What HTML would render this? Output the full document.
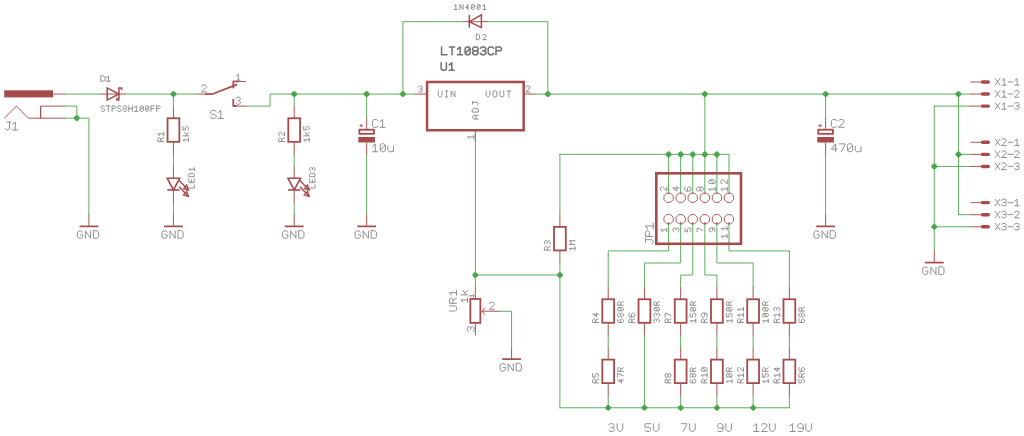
<!DOCTYPE html>
<html><head><meta charset="utf-8"><style>
html,body{margin:0;padding:0;background:#fff;width:1024px;height:436px;overflow:hidden}
svg{display:block}
</style></head><body>
<svg width="1024" height="436" viewBox="0 0 1024 436">
<rect width="1024" height="436" fill="#fff"/>
<path d="M64.75 94.05 L100.98 94.05" stroke="#4ba54b" stroke-width="0.9" fill="none" stroke-linecap="square" stroke-linejoin="miter"/>
<path d="M64.75 106.12 L76.82 106.12 L76.82 118.18" stroke="#4ba54b" stroke-width="0.9" fill="none" stroke-linecap="square" stroke-linejoin="miter"/>
<path d="M64.75 118.18 L88.9 118.18 L88.9 214.71" stroke="#4ba54b" stroke-width="0.9" fill="none" stroke-linecap="square" stroke-linejoin="miter"/>
<polygon points="80.12,118.18 78.66,120.02 76.82,121.48 74.98,120.02 73.52,118.18 74.98,116.35 76.82,114.88 78.66,116.35" fill="#4ba54b"/>
<path d="M125.13 94.05 L197.59 94.05" stroke="#4ba54b" stroke-width="0.9" fill="none" stroke-linecap="square" stroke-linejoin="miter"/>
<polygon points="176.74,94.05 175.28,95.89 173.44,97.35 171.6,95.89 170.14,94.05 171.6,92.21 173.44,90.75 175.28,92.21" fill="#4ba54b"/>
<path d="M245.9 106.12 L270.05 106.12 L270.05 94.05 L414.98 94.05" stroke="#4ba54b" stroke-width="0.9" fill="none" stroke-linecap="square" stroke-linejoin="miter"/>
<polygon points="297.51,94.05 296.05,95.89 294.21,97.35 292.37,95.89 290.91,94.05 292.37,92.21 294.21,90.75 296.05,92.21" fill="#4ba54b"/>
<polygon points="369.97,94.05 368.51,95.89 366.67,97.35 364.83,95.89 363.37,94.05 364.83,92.21 366.67,90.75 368.51,92.21" fill="#4ba54b"/>
<polygon points="406.2,94.05 404.74,95.89 402.9,97.35 401.06,95.89 399.6,94.05 401.06,92.21 402.9,90.75 404.74,92.21" fill="#4ba54b"/>
<path d="M173.44 94.05 L173.44 106.12" stroke="#4ba54b" stroke-width="0.9" fill="none" stroke-linecap="square" stroke-linejoin="miter"/>
<path d="M173.44 154.38 L173.44 166.45" stroke="#4ba54b" stroke-width="0.9" fill="none" stroke-linecap="square" stroke-linejoin="miter"/>
<path d="M173.44 202.65 L173.44 214.71" stroke="#4ba54b" stroke-width="0.9" fill="none" stroke-linecap="square" stroke-linejoin="miter"/>
<path d="M294.21 94.05 L294.21 106.12" stroke="#4ba54b" stroke-width="0.9" fill="none" stroke-linecap="square" stroke-linejoin="miter"/>
<path d="M294.21 154.38 L294.21 166.45" stroke="#4ba54b" stroke-width="0.9" fill="none" stroke-linecap="square" stroke-linejoin="miter"/>
<path d="M294.21 202.65 L294.21 214.71" stroke="#4ba54b" stroke-width="0.9" fill="none" stroke-linecap="square" stroke-linejoin="miter"/>
<path d="M366.67 94.05 L366.67 118.18" stroke="#4ba54b" stroke-width="0.9" fill="none" stroke-linecap="square" stroke-linejoin="miter"/>
<path d="M366.67 154.38 L366.67 214.71" stroke="#4ba54b" stroke-width="0.9" fill="none" stroke-linecap="square" stroke-linejoin="miter"/>
<path d="M402.9 94.05 L402.9 21.66 L463.29 21.66" stroke="#4ba54b" stroke-width="0.9" fill="none" stroke-linecap="square" stroke-linejoin="miter"/>
<path d="M487.44 21.66 L547.83 21.66 L547.83 94.05" stroke="#4ba54b" stroke-width="0.9" fill="none" stroke-linecap="square" stroke-linejoin="miter"/>
<path d="M535.75 94.05 L970.52 94.05" stroke="#4ba54b" stroke-width="0.9" fill="none" stroke-linecap="square" stroke-linejoin="miter"/>
<polygon points="551.12,94.05 549.66,95.89 547.83,97.35 545.99,95.89 544.53,94.05 545.99,92.21 547.83,90.75 549.66,92.21" fill="#4ba54b"/>
<polygon points="708.13,94.05 706.66,95.89 704.83,97.35 702.99,95.89 701.53,94.05 702.99,92.21 704.83,90.75 706.66,92.21" fill="#4ba54b"/>
<polygon points="828.9,94.05 827.43,95.89 825.6,97.35 823.76,95.89 822.3,94.05 823.76,92.21 825.6,90.75 827.43,92.21" fill="#4ba54b"/>
<polygon points="961.74,94.05 960.28,95.89 958.44,97.35 956.6,95.89 955.14,94.05 956.6,92.21 958.44,90.75 960.28,92.21" fill="#4ba54b"/>
<path d="M475.36 142.32 L475.36 287.11" stroke="#4ba54b" stroke-width="0.9" fill="none" stroke-linecap="square" stroke-linejoin="miter"/>
<polygon points="478.66,275.04 477.2,276.88 475.36,278.34 473.52,276.88 472.06,275.04 473.52,273.2 475.36,271.74 477.2,273.2" fill="#4ba54b"/>
<path d="M475.36 275.04 L559.9 275.04" stroke="#4ba54b" stroke-width="0.9" fill="none" stroke-linecap="square" stroke-linejoin="miter"/>
<polygon points="563.2,275.04 561.74,276.88 559.9,278.34 558.06,276.88 556.6,275.04 558.06,273.2 559.9,271.74 561.74,273.2" fill="#4ba54b"/>
<path d="M499.52 311.24 L511.59 311.24 L511.59 347.44" stroke="#4ba54b" stroke-width="0.9" fill="none" stroke-linecap="square" stroke-linejoin="miter"/>
<path d="M559.9 154.38 L559.9 214.71" stroke="#4ba54b" stroke-width="0.9" fill="none" stroke-linecap="square" stroke-linejoin="miter"/>
<path d="M559.9 262.98 L559.9 407.77" stroke="#4ba54b" stroke-width="0.9" fill="none" stroke-linecap="square" stroke-linejoin="miter"/>
<path d="M559.9 154.38 L728.98 154.38" stroke="#4ba54b" stroke-width="0.9" fill="none" stroke-linecap="square" stroke-linejoin="miter"/>
<polygon points="671.89,154.38 670.43,156.22 668.6,157.68 666.76,156.22 665.3,154.38 666.76,152.54 668.6,151.08 670.43,152.54" fill="#4ba54b"/>
<polygon points="683.97,154.38 682.51,156.22 680.67,157.68 678.83,156.22 677.37,154.38 678.83,152.54 680.67,151.08 682.51,152.54" fill="#4ba54b"/>
<polygon points="696.05,154.38 694.59,156.22 692.75,157.68 690.91,156.22 689.45,154.38 690.91,152.54 692.75,151.08 694.59,152.54" fill="#4ba54b"/>
<polygon points="708.13,154.38 706.66,156.22 704.83,157.68 702.99,156.22 701.53,154.38 702.99,152.54 704.83,151.08 706.66,152.54" fill="#4ba54b"/>
<polygon points="720.2,154.38 718.74,156.22 716.9,157.68 715.06,156.22 713.6,154.38 715.06,152.54 716.9,151.08 718.74,152.54" fill="#4ba54b"/>
<path d="M704.83 94.05 L704.83 154.38" stroke="#4ba54b" stroke-width="0.9" fill="none" stroke-linecap="square" stroke-linejoin="miter"/>
<path d="M668.6 154.38 L668.6 192.75" stroke="#4ba54b" stroke-width="0.9" fill="none" stroke-linecap="butt" stroke-linejoin="miter"/>
<path d="M680.67 154.38 L680.67 192.75" stroke="#4ba54b" stroke-width="0.9" fill="none" stroke-linecap="butt" stroke-linejoin="miter"/>
<path d="M692.75 154.38 L692.75 192.75" stroke="#4ba54b" stroke-width="0.9" fill="none" stroke-linecap="butt" stroke-linejoin="miter"/>
<path d="M704.83 154.38 L704.83 192.75" stroke="#4ba54b" stroke-width="0.9" fill="none" stroke-linecap="butt" stroke-linejoin="miter"/>
<path d="M716.9 154.38 L716.9 192.75" stroke="#4ba54b" stroke-width="0.9" fill="none" stroke-linecap="butt" stroke-linejoin="miter"/>
<path d="M728.98 154.38 L728.98 192.75" stroke="#4ba54b" stroke-width="0.9" fill="none" stroke-linecap="butt" stroke-linejoin="miter"/>
<path d="M668.6 224.36 L668.6 250.91 L608.21 250.91 L608.21 287.11" stroke="#4ba54b" stroke-width="0.9" fill="none" stroke-linecap="square" stroke-linejoin="miter"/>
<path d="M680.67 224.36 L680.67 262.98 L644.44 262.98 L644.44 287.11" stroke="#4ba54b" stroke-width="0.9" fill="none" stroke-linecap="square" stroke-linejoin="miter"/>
<path d="M692.75 224.36 L692.75 275.04 L680.67 275.04 L680.67 287.11" stroke="#4ba54b" stroke-width="0.9" fill="none" stroke-linecap="square" stroke-linejoin="miter"/>
<path d="M704.83 224.36 L704.83 275.04 L716.9 275.04 L716.9 287.11" stroke="#4ba54b" stroke-width="0.9" fill="none" stroke-linecap="square" stroke-linejoin="miter"/>
<path d="M716.9 224.36 L716.9 262.98 L753.13 262.98 L753.13 287.11" stroke="#4ba54b" stroke-width="0.9" fill="none" stroke-linecap="square" stroke-linejoin="miter"/>
<path d="M728.98 224.36 L728.98 250.91 L789.37 250.91 L789.37 287.11" stroke="#4ba54b" stroke-width="0.9" fill="none" stroke-linecap="square" stroke-linejoin="miter"/>
<path d="M608.21 335.37 L608.21 347.44" stroke="#4ba54b" stroke-width="0.9" fill="none" stroke-linecap="square" stroke-linejoin="miter"/>
<path d="M608.21 395.7 L608.21 407.77" stroke="#4ba54b" stroke-width="0.9" fill="none" stroke-linecap="square" stroke-linejoin="miter"/>
<path d="M680.67 335.37 L680.67 347.44" stroke="#4ba54b" stroke-width="0.9" fill="none" stroke-linecap="square" stroke-linejoin="miter"/>
<path d="M680.67 395.7 L680.67 407.77" stroke="#4ba54b" stroke-width="0.9" fill="none" stroke-linecap="square" stroke-linejoin="miter"/>
<path d="M716.9 335.37 L716.9 347.44" stroke="#4ba54b" stroke-width="0.9" fill="none" stroke-linecap="square" stroke-linejoin="miter"/>
<path d="M716.9 395.7 L716.9 407.77" stroke="#4ba54b" stroke-width="0.9" fill="none" stroke-linecap="square" stroke-linejoin="miter"/>
<path d="M753.13 335.37 L753.13 347.44" stroke="#4ba54b" stroke-width="0.9" fill="none" stroke-linecap="square" stroke-linejoin="miter"/>
<path d="M753.13 395.7 L753.13 407.77" stroke="#4ba54b" stroke-width="0.9" fill="none" stroke-linecap="square" stroke-linejoin="miter"/>
<path d="M789.37 335.37 L789.37 347.44" stroke="#4ba54b" stroke-width="0.9" fill="none" stroke-linecap="square" stroke-linejoin="miter"/>
<path d="M789.37 395.7 L789.37 407.77" stroke="#4ba54b" stroke-width="0.9" fill="none" stroke-linecap="square" stroke-linejoin="miter"/>
<path d="M644.44 335.37 L644.44 407.77" stroke="#4ba54b" stroke-width="0.9" fill="none" stroke-linecap="square" stroke-linejoin="miter"/>
<path d="M559.9 407.77 L789.37 407.77" stroke="#4ba54b" stroke-width="0.9" fill="none" stroke-linecap="square" stroke-linejoin="miter"/>
<polygon points="611.51,407.77 610.05,409.61 608.21,411.07 606.37,409.61 604.91,407.77 606.37,405.93 608.21,404.47 610.05,405.93" fill="#4ba54b"/>
<polygon points="647.74,407.77 646.28,409.61 644.44,411.07 642.6,409.61 641.14,407.77 642.6,405.93 644.44,404.47 646.28,405.93" fill="#4ba54b"/>
<polygon points="683.97,407.77 682.51,409.61 680.67,411.07 678.83,409.61 677.37,407.77 678.83,405.93 680.67,404.47 682.51,405.93" fill="#4ba54b"/>
<polygon points="720.2,407.77 718.74,409.61 716.9,411.07 715.06,409.61 713.6,407.77 715.06,405.93 716.9,404.47 718.74,405.93" fill="#4ba54b"/>
<polygon points="756.43,407.77 754.97,409.61 753.13,411.07 751.3,409.61 749.83,407.77 751.3,405.93 753.13,404.47 754.97,405.93" fill="#4ba54b"/>
<path d="M825.6 94.05 L825.6 118.18" stroke="#4ba54b" stroke-width="0.9" fill="none" stroke-linecap="square" stroke-linejoin="miter"/>
<path d="M825.6 154.38 L825.6 214.71" stroke="#4ba54b" stroke-width="0.9" fill="none" stroke-linecap="square" stroke-linejoin="miter"/>
<path d="M934.29 106.12 L970.52 106.12" stroke="#4ba54b" stroke-width="0.9" fill="none" stroke-linecap="square" stroke-linejoin="miter"/>
<path d="M934.29 106.12 L934.29 250.91" stroke="#4ba54b" stroke-width="0.9" fill="none" stroke-linecap="square" stroke-linejoin="miter"/>
<path d="M958.44 94.05 L958.44 214.71 L970.52 214.71" stroke="#4ba54b" stroke-width="0.9" fill="none" stroke-linecap="square" stroke-linejoin="miter"/>
<path d="M958.44 154.38 L970.52 154.38" stroke="#4ba54b" stroke-width="0.9" fill="none" stroke-linecap="square" stroke-linejoin="miter"/>
<polygon points="961.74,154.38 960.28,156.22 958.44,157.68 956.6,156.22 955.14,154.38 956.6,152.54 958.44,151.08 960.28,152.54" fill="#4ba54b"/>
<path d="M934.29 166.45 L970.52 166.45" stroke="#4ba54b" stroke-width="0.9" fill="none" stroke-linecap="square" stroke-linejoin="miter"/>
<polygon points="937.59,166.45 936.13,168.29 934.29,169.75 932.45,168.29 930.99,166.45 932.45,164.61 934.29,163.15 936.13,164.61" fill="#4ba54b"/>
<path d="M934.29 226.78 L970.52 226.78" stroke="#4ba54b" stroke-width="0.9" fill="none" stroke-linecap="square" stroke-linejoin="miter"/>
<polygon points="937.59,226.78 936.13,228.62 934.29,230.08 932.45,228.62 930.99,226.78 932.45,224.94 934.29,223.48 936.13,224.94" fill="#4ba54b"/>
<rect x="4.2" y="90.3" width="48.8" height="7.1" stroke="#a54b4b" stroke-width="0" fill="#a54b4b"/>
<path d="M52.67 94.05 L64.75 94.05" stroke="#a54b4b" stroke-width="0.95" fill="none" stroke-linecap="butt" stroke-linejoin="miter"/>
<path d="M40.59 106.12 L64.75 106.12" stroke="#a54b4b" stroke-width="0.95" fill="none" stroke-linecap="butt" stroke-linejoin="miter"/>
<path d="M28.51 118.18 L64.75 118.18" stroke="#a54b4b" stroke-width="0.95" fill="none" stroke-linecap="butt" stroke-linejoin="miter"/>
<path d="M40.59 106.12 L40.59 118.18" stroke="#a54b4b" stroke-width="1.2" fill="none" stroke-linecap="butt" stroke-linejoin="miter"/>
<path d="M4.36 118.18 L16.44 106.12 L28.51 118.18" stroke="#a54b4b" stroke-width="0.95" fill="none" stroke-linecap="butt" stroke-linejoin="miter"/>
<path d="M6.69 122.07 L10.93 122.07 M9.51 122.07 L9.51 128.62 L8.10 129.93 L6.69 129.93 L5.27 128.62 M12.60 124.30 L15.28 122.07 L15.28 129.93 M12.46 129.93 L17.82 129.93" stroke="#8a8a8a" stroke-width="0.95" fill="none" stroke-linecap="round" stroke-linejoin="round"/>
<path d="M100.98 94.05 L125.13 94.05" stroke="#a54b4b" stroke-width="0.95" fill="none" stroke-linecap="butt" stroke-linejoin="miter"/>
<path d="M107.2 87.9 L107.2 100.1 L118.9 94 L107.2 87.9 Z" stroke="#a54b4b" stroke-width="1.5" fill="none" stroke-linecap="butt"/>
<path d="M121.6 90 L121.6 87.9 L118.9 87.9 L118.9 100.1 L116.9 100.1 L116.9 97.6" stroke="#a54b4b" stroke-width="1.5" fill="none" stroke-linecap="butt"/>
<path d="M100.77 76.17 L100.77 81.12 L103.99 81.12 L105.06 80.30 L105.06 77.00 L103.99 76.17 Z M106.46 77.58 L108.49 76.17 L108.49 81.12 M106.35 81.12 L110.42 81.12" stroke="#8a8a8a" stroke-width="0.95" fill="none" stroke-linecap="round" stroke-linejoin="round"/>
<path d="M104.49 106.80 L103.61 105.88 L101.85 105.88 L100.97 106.80 L100.97 107.72 L101.85 108.65 L103.61 108.65 L104.49 109.58 L104.49 110.50 L103.61 111.42 L101.85 111.42 L100.97 110.50 M106.54 105.88 L110.05 105.88 M108.30 105.88 L108.30 111.42 M112.10 111.42 L112.10 105.88 L114.74 105.88 L115.62 106.80 L115.62 107.72 L114.74 108.65 L112.10 108.65 M121.18 106.80 L120.30 105.88 L118.54 105.88 L117.67 106.80 L117.67 107.72 L118.54 108.65 L120.30 108.65 L121.18 109.58 L121.18 110.50 L120.30 111.42 L118.54 111.42 L117.67 110.50 M124.11 105.88 L125.87 105.88 L126.74 106.80 L126.74 107.72 L125.87 108.65 L124.11 108.65 L123.23 107.72 L123.23 106.80 Z M124.11 108.65 L123.23 109.58 L123.23 110.50 L124.11 111.42 L125.87 111.42 L126.74 110.50 L126.74 109.58 L125.87 108.65 M128.79 105.88 L128.79 111.42 M132.31 105.88 L132.31 111.42 M128.79 108.65 L132.31 108.65 M134.62 107.45 L136.29 105.88 L136.29 111.42 M134.53 111.42 L137.87 111.42 M140.97 105.88 L142.38 105.88 L143.26 106.80 L143.26 110.50 L142.38 111.42 L140.97 111.42 L140.10 110.50 L140.10 106.80 Z M140.10 110.50 L143.26 106.80 M146.54 105.88 L147.94 105.88 L148.82 106.80 L148.82 110.50 L147.94 111.42 L146.54 111.42 L145.66 110.50 L145.66 106.80 Z M145.66 110.50 L148.82 106.80 M154.56 105.88 L151.05 105.88 L151.05 111.42 M151.05 108.65 L153.68 108.65 M156.61 111.42 L156.61 105.88 L159.25 105.88 L160.12 106.80 L160.12 107.72 L159.25 108.65 L156.61 108.65" stroke="#8a8a8a" stroke-width="0.95" fill="none" stroke-linecap="round" stroke-linejoin="round"/>
<path d="M173.44 106.12 L173.44 118.18" stroke="#a54b4b" stroke-width="0.95" fill="none" stroke-linecap="butt" stroke-linejoin="miter"/>
<path d="M173.44 142.32 L173.44 154.38" stroke="#a54b4b" stroke-width="0.95" fill="none" stroke-linecap="butt" stroke-linejoin="miter"/>
<rect x="167.54" y="118.28" width="11.8" height="23.53" stroke="#a54b4b" stroke-width="1.8" fill="none"/>
<path d="M173.44 166.45 L173.44 178.51" stroke="#a54b4b" stroke-width="0.95" fill="none" stroke-linecap="butt" stroke-linejoin="miter"/>
<path d="M173.44 190.58 L173.44 202.65" stroke="#a54b4b" stroke-width="0.95" fill="none" stroke-linecap="butt" stroke-linejoin="miter"/>
<path d="M167.24 178.31 L179.64 178.31 L173.44 189.98 L167.24 178.31 Z" stroke="#a54b4b" stroke-width="1.6" fill="none" stroke-linecap="butt"/>
<path d="M167.24 189.98 L179.64 189.98" stroke="#a54b4b" stroke-width="1.6" fill="none" stroke-linecap="butt"/>
<path d="M178.94 180.31 L188.04 189.71" stroke="#a54b4b" stroke-width="1.4" fill="none" stroke-linecap="butt"/>
<path d="M188.54 190.31 L186.74 184.81 L183.64 188.61 Z" stroke="#a54b4b" stroke-width="1.2" fill="none" stroke-linecap="butt"/>
<path d="M179.24 186.81 L188.04 195.91" stroke="#a54b4b" stroke-width="1.4" fill="none" stroke-linecap="butt"/>
<path d="M188.54 196.51 L186.74 191.31 L183.34 195.01 Z" stroke="#a54b4b" stroke-width="1.2" fill="none" stroke-linecap="butt"/>
<path d="M173.44 214.71 L173.44 226.78" stroke="#a54b4b" stroke-width="0.95" fill="none" stroke-linecap="butt" stroke-linejoin="miter"/>
<path d="M164.04 226.38 L182.84 226.38" stroke="#a54b4b" stroke-width="1.7" fill="none" stroke-linecap="butt"/>
<path d="M167.13 232.16 L165.83 230.95 L163.22 230.95 L161.91 232.16 L161.91 236.99 L163.22 238.20 L165.83 238.20 L167.13 236.99 L167.13 234.82 L165.05 234.82 M169.93 238.20 L169.93 230.95 L175.15 238.20 L175.15 230.95 M177.94 230.95 L177.94 238.20 L181.86 238.20 L183.16 236.99 L183.16 232.16 L181.86 230.95 Z" stroke="#8a8a8a" stroke-width="0.95" fill="none" stroke-linecap="round" stroke-linejoin="round"/>
<path d="M163.76 141.54 L157.91 141.54 L157.91 138.76 L158.89 137.84 L159.86 137.84 L160.84 138.76 L160.84 141.54 M160.84 139.50 L163.76 137.84 M159.57 135.62 L157.91 133.86 L163.76 133.86 M163.76 135.71 L163.76 132.19" stroke="#8a8a8a" stroke-width="0.95" fill="none" stroke-linecap="round" stroke-linejoin="round"/>
<path d="M184.51 141.45 L182.91 139.75 L188.56 139.75 M188.56 141.54 L188.56 138.14 M182.91 135.87 L188.56 135.87 M184.61 132.47 L187.24 135.87 M186.21 134.44 L188.56 132.47 M182.91 126.44 L182.91 130.02 L185.36 130.02 L185.36 127.34 L186.30 126.44 L187.62 126.44 L188.56 127.34 L188.56 129.12 L187.62 130.02" stroke="#8a8a8a" stroke-width="0.95" fill="none" stroke-linecap="round" stroke-linejoin="round"/>
<path d="M188.91 188.12 L194.26 188.12 L194.26 184.74 M188.91 179.05 L188.91 182.44 L194.26 182.44 L194.26 179.05 M191.59 182.44 L191.59 179.90 M188.91 176.75 L194.26 176.75 L194.26 174.21 L193.37 173.36 L189.80 173.36 L188.91 174.21 Z M190.43 170.81 L188.91 169.20 L194.26 169.20 M194.26 170.89 L194.26 167.67" stroke="#8a8a8a" stroke-width="0.95" fill="none" stroke-linecap="round" stroke-linejoin="round"/>
<path d="M294.21 106.12 L294.21 118.18" stroke="#a54b4b" stroke-width="0.95" fill="none" stroke-linecap="butt" stroke-linejoin="miter"/>
<path d="M294.21 142.32 L294.21 154.38" stroke="#a54b4b" stroke-width="0.95" fill="none" stroke-linecap="butt" stroke-linejoin="miter"/>
<rect x="288.31" y="118.28" width="11.8" height="23.53" stroke="#a54b4b" stroke-width="1.8" fill="none"/>
<path d="M294.21 166.45 L294.21 178.51" stroke="#a54b4b" stroke-width="0.95" fill="none" stroke-linecap="butt" stroke-linejoin="miter"/>
<path d="M294.21 190.58 L294.21 202.65" stroke="#a54b4b" stroke-width="0.95" fill="none" stroke-linecap="butt" stroke-linejoin="miter"/>
<path d="M288.01 178.31 L300.41 178.31 L294.21 189.98 L288.01 178.31 Z" stroke="#a54b4b" stroke-width="1.6" fill="none" stroke-linecap="butt"/>
<path d="M288.01 189.98 L300.41 189.98" stroke="#a54b4b" stroke-width="1.6" fill="none" stroke-linecap="butt"/>
<path d="M299.71 180.31 L308.81 189.71" stroke="#a54b4b" stroke-width="1.4" fill="none" stroke-linecap="butt"/>
<path d="M309.31 190.31 L307.51 184.81 L304.41 188.61 Z" stroke="#a54b4b" stroke-width="1.2" fill="none" stroke-linecap="butt"/>
<path d="M300.01 186.81 L308.81 195.91" stroke="#a54b4b" stroke-width="1.4" fill="none" stroke-linecap="butt"/>
<path d="M309.31 196.51 L307.51 191.31 L304.11 195.01 Z" stroke="#a54b4b" stroke-width="1.2" fill="none" stroke-linecap="butt"/>
<path d="M294.21 214.71 L294.21 226.78" stroke="#a54b4b" stroke-width="0.95" fill="none" stroke-linecap="butt" stroke-linejoin="miter"/>
<path d="M284.81 226.38 L303.61 226.38" stroke="#a54b4b" stroke-width="1.7" fill="none" stroke-linecap="butt"/>
<path d="M287.90 232.16 L286.60 230.95 L283.99 230.95 L282.68 232.16 L282.68 236.99 L283.99 238.20 L286.60 238.20 L287.90 236.99 L287.90 234.82 L285.82 234.82 M290.70 238.20 L290.70 230.95 L295.92 238.20 L295.92 230.95 M298.71 230.95 L298.71 238.20 L302.63 238.20 L303.93 236.99 L303.93 232.16 L302.63 230.95 Z" stroke="#8a8a8a" stroke-width="0.95" fill="none" stroke-linecap="round" stroke-linejoin="round"/>
<path d="M284.53 141.54 L278.68 141.54 L278.68 138.76 L279.66 137.84 L280.63 137.84 L281.61 138.76 L281.61 141.54 M281.61 139.50 L284.53 137.84 M279.66 135.90 L278.68 134.97 L278.68 133.12 L279.66 132.19 L280.63 132.19 L284.53 135.90 L284.53 132.19" stroke="#8a8a8a" stroke-width="0.95" fill="none" stroke-linecap="round" stroke-linejoin="round"/>
<path d="M305.28 141.45 L303.68 139.75 L309.33 139.75 M309.33 141.54 L309.33 138.14 M303.68 135.87 L309.33 135.87 M305.38 132.47 L308.01 135.87 M306.98 134.44 L309.33 132.47 M303.68 126.44 L303.68 130.02 L306.13 130.02 L306.13 127.34 L307.07 126.44 L308.39 126.44 L309.33 127.34 L309.33 129.12 L308.39 130.02" stroke="#8a8a8a" stroke-width="0.95" fill="none" stroke-linecap="round" stroke-linejoin="round"/>
<path d="M309.68 188.12 L315.03 188.12 L315.03 184.74 M309.68 179.05 L309.68 182.44 L315.03 182.44 L315.03 179.05 M312.36 182.44 L312.36 179.90 M309.68 176.75 L315.03 176.75 L315.03 174.21 L314.14 173.36 L310.57 173.36 L309.68 174.21 Z M310.57 171.06 L309.68 170.22 L309.68 168.52 L310.57 167.67 L311.47 167.67 L312.36 168.52 L312.36 169.71 M312.36 168.52 L313.25 167.67 L314.14 167.67 L315.03 168.52 L315.03 170.22 L314.14 171.06" stroke="#8a8a8a" stroke-width="0.95" fill="none" stroke-linecap="round" stroke-linejoin="round"/>
<path d="M88.9 214.71 L88.9 226.78" stroke="#a54b4b" stroke-width="0.95" fill="none" stroke-linecap="butt" stroke-linejoin="miter"/>
<path d="M79.5 226.38 L98.3 226.38" stroke="#a54b4b" stroke-width="1.7" fill="none" stroke-linecap="butt"/>
<path d="M82.59 232.16 L81.29 230.95 L78.68 230.95 L77.37 232.16 L77.37 236.99 L78.68 238.20 L81.29 238.20 L82.59 236.99 L82.59 234.82 L80.51 234.82 M85.39 238.20 L85.39 230.95 L90.61 238.20 L90.61 230.95 M93.40 230.95 L93.40 238.20 L97.32 238.20 L98.62 236.99 L98.62 232.16 L97.32 230.95 Z" stroke="#8a8a8a" stroke-width="0.95" fill="none" stroke-linecap="round" stroke-linejoin="round"/>
<path d="M197.59 94.05 L212.69 94.05" stroke="#a54b4b" stroke-width="0.95" fill="none" stroke-linecap="butt" stroke-linejoin="miter"/>
<path d="M205 94 L212.7 94 L237.2 84.4" stroke="#a54b4b" stroke-width="1.7" fill="none" stroke-linecap="butt"/>
<path d="M238 81.5 L245.9 81.5" stroke="#a54b4b" stroke-width="0.95" fill="none" stroke-linecap="butt"/>
<path d="M233.3 80.6 L233.3 88.4" stroke="#a54b4b" stroke-width="1.7" fill="none" stroke-linecap="butt"/>
<path d="M233.3 81.5 L238 81.5" stroke="#a54b4b" stroke-width="1.5" fill="none" stroke-linecap="butt"/>
<path d="M233.3 99.1 L233.3 105.8 L236.8 105.8" stroke="#a54b4b" stroke-width="1.7" fill="none" stroke-linecap="butt"/>
<path d="M233.82 106.12 L245.9 106.12" stroke="#a54b4b" stroke-width="0.95" fill="none" stroke-linecap="butt" stroke-linejoin="miter"/>
<path d="M201.47 86.13 L202.73 84.97 L205.23 84.97 L206.48 86.13 L206.48 87.29 L201.47 91.92 L206.48 91.92" stroke="#8a8a8a" stroke-width="0.95" fill="none" stroke-linecap="round" stroke-linejoin="round"/>
<path d="M236.57 75.96 L238.36 74.27 L238.36 80.22 M236.47 80.22 L240.05 80.22" stroke="#8a8a8a" stroke-width="0.95" fill="none" stroke-linecap="round" stroke-linejoin="round"/>
<path d="M236.38 98.28 L237.34 97.07 L239.28 97.07 L240.24 98.28 L240.24 99.49 L239.28 100.70 L237.92 100.70 M239.28 100.70 L240.24 101.91 L240.24 103.12 L239.28 104.32 L237.34 104.32 L236.38 103.12" stroke="#8a8a8a" stroke-width="0.95" fill="none" stroke-linecap="round" stroke-linejoin="round"/>
<path d="M216.20 111.80 L214.77 110.47 L211.91 110.47 L210.47 111.80 L210.47 113.12 L211.91 114.45 L214.77 114.45 L216.20 115.77 L216.20 117.10 L214.77 118.42 L211.91 118.42 L210.47 117.10 M218.13 112.73 L220.85 110.47 L220.85 118.42 M217.99 118.42 L223.43 118.42" stroke="#8a8a8a" stroke-width="0.95" fill="none" stroke-linecap="round" stroke-linejoin="round"/>
<path d="M366.67 118.18 L366.67 129" stroke="#a54b4b" stroke-width="0.95" fill="none" stroke-linecap="butt"/>
<path d="M366.67 142.5 L366.67 154.38" stroke="#a54b4b" stroke-width="0.95" fill="none" stroke-linecap="butt"/>
<rect x="359.37" y="129.7" width="14.6" height="4.1" stroke="#a54b4b" stroke-width="1.8" fill="none"/>
<rect x="358.37" y="137" width="16.6" height="5.5" stroke="#a54b4b" stroke-width="0" fill="#a54b4b"/>
<path d="M359.47 125.7 L362.87 125.7" stroke="#a54b4b" stroke-width="0.9" fill="none" stroke-linecap="butt"/>
<path d="M361.17 124 L361.17 127.4" stroke="#a54b4b" stroke-width="0.9" fill="none" stroke-linecap="butt"/>
<path d="M378.03 120.87 L376.63 119.57 L373.84 119.57 L372.45 120.87 L372.45 126.03 L373.84 127.32 L376.63 127.32 L378.03 126.03 M380.03 121.77 L382.68 119.57 L382.68 127.32 M379.89 127.32 L385.20 127.32" stroke="#8a8a8a" stroke-width="0.95" fill="none" stroke-linecap="round" stroke-linejoin="round"/>
<path d="M372.59 146.10 L375.27 143.88 L375.27 151.72 M372.45 151.72 L377.81 151.72 M381.70 143.88 L383.96 143.88 L385.37 145.18 L385.37 150.42 L383.96 151.72 L381.70 151.72 L380.29 150.42 L380.29 145.18 Z M380.29 150.42 L385.37 145.18 M387.84 146.49 L387.84 150.42 L389.26 151.72 L392.08 151.72 L393.50 150.42 M393.50 146.49 L393.50 151.72" stroke="#8a8a8a" stroke-width="0.95" fill="none" stroke-linecap="round" stroke-linejoin="round"/>
<path d="M366.67 214.71 L366.67 226.78" stroke="#a54b4b" stroke-width="0.95" fill="none" stroke-linecap="butt" stroke-linejoin="miter"/>
<path d="M357.27 226.38 L376.07 226.38" stroke="#a54b4b" stroke-width="1.7" fill="none" stroke-linecap="butt"/>
<path d="M360.37 232.16 L359.06 230.95 L356.45 230.95 L355.15 232.16 L355.15 236.99 L356.45 238.20 L359.06 238.20 L360.37 236.99 L360.37 234.82 L358.28 234.82 M363.16 238.20 L363.16 230.95 L368.38 238.20 L368.38 230.95 M371.18 230.95 L371.18 238.20 L375.09 238.20 L376.40 236.99 L376.40 232.16 L375.09 230.95 Z" stroke="#8a8a8a" stroke-width="0.95" fill="none" stroke-linecap="round" stroke-linejoin="round"/>
<path d="M825.6 118.18 L825.6 129" stroke="#a54b4b" stroke-width="0.95" fill="none" stroke-linecap="butt"/>
<path d="M825.6 142.5 L825.6 154.38" stroke="#a54b4b" stroke-width="0.95" fill="none" stroke-linecap="butt"/>
<rect x="818.3" y="129.7" width="14.6" height="4.1" stroke="#a54b4b" stroke-width="1.8" fill="none"/>
<rect x="817.3" y="137" width="16.6" height="5.5" stroke="#a54b4b" stroke-width="0" fill="#a54b4b"/>
<path d="M818.4 125.7 L821.8 125.7" stroke="#a54b4b" stroke-width="0.9" fill="none" stroke-linecap="butt"/>
<path d="M820.1 124 L820.1 127.4" stroke="#a54b4b" stroke-width="0.9" fill="none" stroke-linecap="butt"/>
<path d="M836.95 120.87 L835.56 119.57 L832.77 119.57 L831.37 120.87 L831.37 126.03 L832.77 127.32 L835.56 127.32 L836.95 126.03 M838.54 120.87 L839.94 119.57 L842.73 119.57 L844.12 120.87 L844.12 122.16 L838.54 127.32 L844.12 127.32" stroke="#8a8a8a" stroke-width="0.95" fill="none" stroke-linecap="round" stroke-linejoin="round"/>
<path d="M835.61 151.72 L835.61 143.88 L831.37 149.11 L837.02 149.11 M839.34 143.88 L844.99 143.88 L844.99 144.92 L841.32 151.72 M849.00 143.88 L851.26 143.88 L852.67 145.18 L852.67 150.42 L851.26 151.72 L849.00 151.72 L847.59 150.42 L847.59 145.18 Z M847.59 150.42 L852.67 145.18 M855.27 146.49 L855.27 150.42 L856.68 151.72 L859.51 151.72 L860.92 150.42 M860.92 146.49 L860.92 151.72" stroke="#8a8a8a" stroke-width="0.95" fill="none" stroke-linecap="round" stroke-linejoin="round"/>
<path d="M825.6 214.71 L825.6 226.78" stroke="#a54b4b" stroke-width="0.95" fill="none" stroke-linecap="butt" stroke-linejoin="miter"/>
<path d="M816.2 226.38 L835 226.38" stroke="#a54b4b" stroke-width="1.7" fill="none" stroke-linecap="butt"/>
<path d="M819.29 232.16 L817.99 230.95 L815.38 230.95 L814.07 232.16 L814.07 236.99 L815.38 238.20 L817.99 238.20 L819.29 236.99 L819.29 234.82 L817.20 234.82 M822.09 238.20 L822.09 230.95 L827.31 238.20 L827.31 230.95 M830.10 230.95 L830.10 238.20 L834.02 238.20 L835.32 236.99 L835.32 232.16 L834.02 230.95 Z" stroke="#8a8a8a" stroke-width="0.95" fill="none" stroke-linecap="round" stroke-linejoin="round"/>
<path d="M414.98 94.05 L427.06 94.05" stroke="#a54b4b" stroke-width="0.95" fill="none" stroke-linecap="butt" stroke-linejoin="miter"/>
<path d="M523.67 94.05 L535.75 94.05" stroke="#a54b4b" stroke-width="0.95" fill="none" stroke-linecap="butt" stroke-linejoin="miter"/>
<path d="M475.36 130.25 L475.36 142.32" stroke="#a54b4b" stroke-width="0.95" fill="none" stroke-linecap="butt" stroke-linejoin="miter"/>
<rect x="427.06" y="81.99" width="96.62" height="48.26" stroke="#a54b4b" stroke-width="2.5" fill="none"/>
<path d="M441.55 47.05 L441.55 54.65 L447.02 54.65 M449.33 47.05 L454.80 47.05 M452.06 47.05 L452.06 54.65 M457.51 49.20 L460.11 47.05 L460.11 54.65 M457.37 54.65 L462.57 54.65 M466.52 47.05 L468.71 47.05 L470.07 48.32 L470.07 53.38 L468.71 54.65 L466.52 54.65 L465.15 53.38 L465.15 48.32 Z M465.15 53.38 L470.07 48.32 M474.02 47.05 L476.76 47.05 L478.12 48.32 L478.12 49.58 L476.76 50.85 L474.02 50.85 L472.65 49.58 L472.65 48.32 Z M474.02 50.85 L472.65 52.12 L472.65 53.38 L474.02 54.65 L476.76 54.65 L478.12 53.38 L478.12 52.12 L476.76 50.85 M480.43 48.32 L481.80 47.05 L484.53 47.05 L485.90 48.32 L485.90 49.58 L484.53 50.85 L482.62 50.85 M484.53 50.85 L485.90 52.12 L485.90 53.38 L484.53 54.65 L481.80 54.65 L480.43 53.38 M493.67 48.32 L492.31 47.05 L489.57 47.05 L488.20 48.32 L488.20 53.38 L489.57 54.65 L492.31 54.65 L493.67 53.38 M495.98 54.65 L495.98 47.05 L500.08 47.05 L501.45 48.32 L501.45 49.58 L500.08 50.85 L495.98 50.85" stroke="#707070" stroke-width="1.5" fill="none" stroke-linecap="round" stroke-linejoin="round"/>
<path d="M441.15 62.85 L441.15 68.93 L442.46 70.15 L445.09 70.15 L446.41 68.93 L446.41 62.85 M449.29 64.92 L451.78 62.85 L451.78 70.15 M449.16 70.15 L454.15 70.15" stroke="#707070" stroke-width="1.5" fill="none" stroke-linecap="round" stroke-linejoin="round"/>
<path d="M438.28 90.97 L438.28 95.34 L439.78 96.92 L440.54 96.92 L442.04 95.34 L442.04 90.97 M445.66 90.97 L447.54 90.97 M446.60 90.97 L446.60 96.92 M445.66 96.92 L447.54 96.92 M451.16 96.92 L451.16 90.97 L454.93 96.92 L454.93 90.97" stroke="#8a8a8a" stroke-width="0.95" fill="none" stroke-linecap="round" stroke-linejoin="round"/>
<path d="M486.18 90.97 L486.18 95.34 L487.68 96.92 L488.44 96.92 L489.94 95.34 L489.94 90.97 M494.04 90.97 L495.93 90.97 L496.87 91.97 L496.87 95.93 L495.93 96.92 L494.04 96.92 L493.10 95.93 L493.10 91.97 Z M500.03 90.97 L500.03 95.93 L500.97 96.92 L502.86 96.92 L503.80 95.93 L503.80 90.97 M506.96 90.97 L510.73 90.97 M508.84 90.97 L508.84 96.92" stroke="#8a8a8a" stroke-width="0.95" fill="none" stroke-linecap="round" stroke-linejoin="round"/>
<path d="M478.33 119.03 L473.94 119.03 L472.48 117.64 L472.48 116.71 L473.94 115.32 L478.33 115.32 M475.99 119.03 L475.99 115.32 M472.48 112.05 L478.33 112.05 L478.33 109.27 L477.35 108.35 L473.45 108.35 L472.48 109.27 Z M472.48 104.15 L472.48 101.38 M472.48 102.30 L477.35 102.30 L478.33 103.23 L478.33 104.15 L477.35 105.08" stroke="#8a8a8a" stroke-width="0.95" fill="none" stroke-linecap="round" stroke-linejoin="round"/>
<path d="M418.48 87.08 L419.43 86.07 L421.35 86.07 L422.31 87.08 L422.31 88.09 L421.35 89.10 L420.01 89.10 M421.35 89.10 L422.31 90.11 L422.31 91.12 L421.35 92.12 L419.43 92.12 L418.48 91.12" stroke="#8a8a8a" stroke-width="0.95" fill="none" stroke-linecap="round" stroke-linejoin="round"/>
<path d="M526.08 87.08 L527.03 86.07 L528.95 86.07 L529.91 87.08 L529.91 88.09 L526.08 92.12 L529.91 92.12" stroke="#8a8a8a" stroke-width="0.95" fill="none" stroke-linecap="round" stroke-linejoin="round"/>
<path d="M469.35 138.73 L467.58 136.85 L473.83 136.85 M473.83 138.83 L473.83 135.06" stroke="#8a8a8a" stroke-width="0.95" fill="none" stroke-linecap="round" stroke-linejoin="round"/>
<path d="M463.29 21.66 L487.44 21.66" stroke="#a54b4b" stroke-width="0.95" fill="none" stroke-linecap="butt" stroke-linejoin="miter"/>
<path d="M481.4 14.8 L481.4 27.6 L469.32 21.66 L481.4 14.8 Z" stroke="#a54b4b" stroke-width="1.5" fill="none" stroke-linecap="butt"/>
<path d="M469.32 14.8 L469.32 27.6" stroke="#a54b4b" stroke-width="1.5" fill="none" stroke-linecap="butt"/>
<path d="M454.35 5.91 L455.87 4.47 L455.87 9.52 M454.28 9.52 L457.31 9.52 M459.84 9.52 L459.84 4.47 L463.04 9.52 L463.04 4.47 M467.96 9.52 L467.96 4.47 L465.56 7.84 L468.76 7.84 M472.24 4.47 L473.52 4.47 L474.32 5.32 L474.32 8.68 L473.52 9.52 L472.24 9.52 L471.44 8.68 L471.44 5.32 Z M471.44 8.68 L474.32 5.32 M477.96 4.47 L479.24 4.47 L480.04 5.32 L480.04 8.68 L479.24 9.52 L477.96 9.52 L477.16 8.68 L477.16 5.32 Z M477.16 8.68 L480.04 5.32 M482.97 5.91 L484.49 4.47 L484.49 9.52 M482.89 9.52 L485.93 9.52" stroke="#8a8a8a" stroke-width="0.95" fill="none" stroke-linecap="round" stroke-linejoin="round"/>
<path d="M476.28 34.48 L476.28 39.62 L478.72 39.62 L479.54 38.77 L479.54 35.33 L478.72 34.48 Z M482.96 35.33 L483.78 34.48 L485.41 34.48 L486.23 35.33 L486.23 36.19 L482.96 39.62 L486.23 39.62" stroke="#8a8a8a" stroke-width="0.95" fill="none" stroke-linecap="round" stroke-linejoin="round"/>
<path d="M475.36 287.11 L475.36 299.17" stroke="#a54b4b" stroke-width="0.95" fill="none" stroke-linecap="butt" stroke-linejoin="miter"/>
<path d="M475.36 323.31 L475.36 335.37" stroke="#a54b4b" stroke-width="0.95" fill="none" stroke-linecap="butt" stroke-linejoin="miter"/>
<rect x="470.36" y="298.97" width="10" height="23.93" stroke="#a54b4b" stroke-width="1.8" fill="none"/>
<path d="M499.52 311.24 L481.76 311.24" stroke="#a54b4b" stroke-width="0.95" fill="none" stroke-linecap="butt"/>
<path d="M485.16 308.14 L481.76 311.24 L485.16 314.34" stroke="#a54b4b" stroke-width="0.95" fill="none" stroke-linecap="butt"/>
<path d="M511.59 347.44 L511.59 359.5" stroke="#a54b4b" stroke-width="0.95" fill="none" stroke-linecap="butt" stroke-linejoin="miter"/>
<path d="M502.19 359.1 L520.99 359.1" stroke="#a54b4b" stroke-width="1.7" fill="none" stroke-linecap="butt"/>
<path d="M505.29 364.89 L503.98 363.68 L501.37 363.68 L500.07 364.89 L500.07 369.72 L501.37 370.93 L503.98 370.93 L505.29 369.72 L505.29 367.55 L503.20 367.55 M508.08 370.93 L508.08 363.68 L513.30 370.93 L513.30 363.68 M516.10 363.68 L516.10 370.93 L520.01 370.93 L521.32 369.72 L521.32 364.89 L520.01 363.68 Z" stroke="#8a8a8a" stroke-width="0.95" fill="none" stroke-linecap="round" stroke-linejoin="round"/>
<path d="M489.28 303.45 L490.54 302.28 L493.08 302.28 L494.35 303.45 L494.35 304.63 L489.28 309.33 L494.35 309.33" stroke="#8a8a8a" stroke-width="0.95" fill="none" stroke-linecap="round" stroke-linejoin="round"/>
<path d="M449.48 311.02 L455.35 311.02 L456.53 309.76 L456.53 307.22 L455.35 305.95 L449.48 305.95 M456.53 303.24 L449.48 303.24 L449.48 299.43 L450.65 298.16 L451.83 298.16 L453.00 299.43 L453.00 303.24 M453.00 300.45 L456.53 298.16 M451.47 295.07 L449.48 292.66 L456.53 292.66 M456.53 295.20 L456.53 290.37" stroke="#8a8a8a" stroke-width="0.95" fill="none" stroke-linecap="round" stroke-linejoin="round"/>
<path d="M462.83 302.11 L460.98 299.87 L467.53 299.87 M467.53 302.22 L467.53 297.74 M460.98 294.86 L467.53 294.86 M462.94 290.37 L466.00 294.86 M464.80 292.97 L467.53 290.37" stroke="#8a8a8a" stroke-width="0.95" fill="none" stroke-linecap="round" stroke-linejoin="round"/>
<path d="M470.62 296.96 L469.48 295.74 L473.53 295.74 M473.53 297.02 L473.53 294.59" stroke="#8a8a8a" stroke-width="0.95" fill="none" stroke-linecap="round" stroke-linejoin="round"/>
<path d="M468.42 331.52 L467.28 330.29 L467.28 327.83 L468.42 326.59 L469.56 326.59 L470.70 327.83 L470.70 329.55 M470.70 327.83 L471.84 326.59 L472.98 326.59 L474.13 327.83 L474.13 330.29 L472.98 331.52" stroke="#8a8a8a" stroke-width="0.95" fill="none" stroke-linecap="round" stroke-linejoin="round"/>
<path d="M559.9 214.71 L559.9 226.78" stroke="#a54b4b" stroke-width="0.95" fill="none" stroke-linecap="butt" stroke-linejoin="miter"/>
<path d="M559.9 250.91 L559.9 262.98" stroke="#a54b4b" stroke-width="0.95" fill="none" stroke-linecap="butt" stroke-linejoin="miter"/>
<rect x="554" y="226.88" width="11.8" height="23.53" stroke="#a54b4b" stroke-width="1.8" fill="none"/>
<path d="M550.23 250.14 L544.38 250.14 L544.38 247.36 L545.35 246.43 L546.33 246.43 L547.30 247.36 L547.30 250.14 M547.30 248.10 L550.23 246.43 M545.35 244.49 L544.38 243.56 L544.38 241.71 L545.35 240.78 L546.33 240.78 L547.30 241.71 L547.30 243.01 M547.30 241.71 L548.28 240.78 L549.25 240.78 L550.23 241.71 L550.23 243.56 L549.25 244.49" stroke="#8a8a8a" stroke-width="0.95" fill="none" stroke-linecap="round" stroke-linejoin="round"/>
<path d="M570.98 250.05 L569.38 248.35 L575.03 248.35 M575.03 250.14 L575.03 246.74 M575.03 244.36 L569.38 244.36 L571.83 242.57 L569.38 240.78 L575.03 240.78" stroke="#8a8a8a" stroke-width="0.95" fill="none" stroke-linecap="round" stroke-linejoin="round"/>
<rect x="656.3" y="173.3" width="84.7" height="70.5" stroke="#a54b4b" stroke-width="2.6" fill="none"/>
<path d="M673.21 199.66 L670.51 202.37 L666.68 202.37 L663.98 199.66 L663.98 195.84 L666.68 193.13 L670.51 193.13 L673.21 195.84 Z" stroke="#a54b4b" stroke-width="0.9" fill="none" stroke-linecap="butt"/>
<path d="M673.21 221.11 L670.51 223.82 L666.68 223.82 L663.98 221.11 L663.98 217.29 L666.68 214.58 L670.51 214.58 L673.21 217.29 Z" stroke="#a54b4b" stroke-width="0.9" fill="none" stroke-linecap="butt"/>
<path d="M668.6 192.75 L668.6 194.2" stroke="#a54b4b" stroke-width="0.95" fill="none" stroke-linecap="butt" stroke-linejoin="miter"/>
<path d="M668.6 221.95 L668.6 224.36" stroke="#a54b4b" stroke-width="0.95" fill="none" stroke-linecap="butt" stroke-linejoin="miter"/>
<path d="M661.55 191.03 L660.47 190.00 L660.47 187.96 L661.55 186.94 L662.62 186.94 L666.92 191.03 L666.92 186.94" stroke="#8a8a8a" stroke-width="0.95" fill="none" stroke-linecap="round" stroke-linejoin="round"/>
<path d="M662.53 231.63 L660.87 229.87 L666.72 229.87 M666.72 231.73 L666.72 228.21" stroke="#8a8a8a" stroke-width="0.95" fill="none" stroke-linecap="round" stroke-linejoin="round"/>
<path d="M685.29 199.66 L682.59 202.37 L678.76 202.37 L676.05 199.66 L676.05 195.84 L678.76 193.13 L682.59 193.13 L685.29 195.84 Z" stroke="#a54b4b" stroke-width="0.9" fill="none" stroke-linecap="butt"/>
<path d="M685.29 221.11 L682.59 223.82 L678.76 223.82 L676.05 221.11 L676.05 217.29 L678.76 214.58 L682.59 214.58 L685.29 217.29 Z" stroke="#a54b4b" stroke-width="0.9" fill="none" stroke-linecap="butt"/>
<path d="M680.67 192.75 L680.67 194.2" stroke="#a54b4b" stroke-width="0.95" fill="none" stroke-linecap="butt" stroke-linejoin="miter"/>
<path d="M680.67 221.95 L680.67 224.36" stroke="#a54b4b" stroke-width="0.95" fill="none" stroke-linecap="butt" stroke-linejoin="miter"/>
<path d="M679.00 187.96 L672.55 187.96 L676.85 191.03 L676.85 186.94" stroke="#8a8a8a" stroke-width="0.95" fill="none" stroke-linecap="round" stroke-linejoin="round"/>
<path d="M673.92 231.73 L672.95 230.80 L672.95 228.95 L673.92 228.02 L674.90 228.02 L675.87 228.95 L675.87 230.24 M675.87 228.95 L676.85 228.02 L677.82 228.02 L678.80 228.95 L678.80 230.80 L677.82 231.73" stroke="#8a8a8a" stroke-width="0.95" fill="none" stroke-linecap="round" stroke-linejoin="round"/>
<path d="M697.37 199.66 L694.66 202.37 L690.84 202.37 L688.13 199.66 L688.13 195.84 L690.84 193.13 L694.66 193.13 L697.37 195.84 Z" stroke="#a54b4b" stroke-width="0.9" fill="none" stroke-linecap="butt"/>
<path d="M697.37 221.11 L694.66 223.82 L690.84 223.82 L688.13 221.11 L688.13 217.29 L690.84 214.58 L694.66 214.58 L697.37 217.29 Z" stroke="#a54b4b" stroke-width="0.9" fill="none" stroke-linecap="butt"/>
<path d="M692.75 192.75 L692.75 194.2" stroke="#a54b4b" stroke-width="0.95" fill="none" stroke-linecap="butt" stroke-linejoin="miter"/>
<path d="M692.75 221.95 L692.75 224.36" stroke="#a54b4b" stroke-width="0.95" fill="none" stroke-linecap="butt" stroke-linejoin="miter"/>
<path d="M685.27 186.94 L684.62 187.55 L684.62 190.00 L685.70 191.03 L690.00 191.03 L691.07 190.00 L691.07 187.96 L690.00 186.94 L688.49 186.94 L687.42 187.96 L687.42 191.03" stroke="#8a8a8a" stroke-width="0.95" fill="none" stroke-linecap="round" stroke-linejoin="round"/>
<path d="M685.02 228.02 L685.02 231.73 L687.56 231.73 L687.56 228.95 L688.53 228.02 L689.90 228.02 L690.87 228.95 L690.87 230.80 L689.90 231.73" stroke="#8a8a8a" stroke-width="0.95" fill="none" stroke-linecap="round" stroke-linejoin="round"/>
<path d="M709.45 199.66 L706.74 202.37 L702.91 202.37 L700.21 199.66 L700.21 195.84 L702.91 193.13 L706.74 193.13 L709.45 195.84 Z" stroke="#a54b4b" stroke-width="0.9" fill="none" stroke-linecap="butt"/>
<path d="M709.45 221.11 L706.74 223.82 L702.91 223.82 L700.21 221.11 L700.21 217.29 L702.91 214.58 L706.74 214.58 L709.45 217.29 Z" stroke="#a54b4b" stroke-width="0.9" fill="none" stroke-linecap="butt"/>
<path d="M704.83 192.75 L704.83 194.2" stroke="#a54b4b" stroke-width="0.95" fill="none" stroke-linecap="butt" stroke-linejoin="miter"/>
<path d="M704.83 221.95 L704.83 224.36" stroke="#a54b4b" stroke-width="0.95" fill="none" stroke-linecap="butt" stroke-linejoin="miter"/>
<path d="M696.70 190.00 L696.70 187.96 L697.78 186.94 L698.85 186.94 L699.93 187.96 L699.93 190.00 L698.85 191.03 L697.78 191.03 Z M699.93 190.00 L701.00 191.03 L702.08 191.03 L703.15 190.00 L703.15 187.96 L702.08 186.94 L701.00 186.94 L699.93 187.96" stroke="#8a8a8a" stroke-width="0.95" fill="none" stroke-linecap="round" stroke-linejoin="round"/>
<path d="M697.10 231.73 L697.10 228.02 L697.88 228.02 L702.95 230.43" stroke="#8a8a8a" stroke-width="0.95" fill="none" stroke-linecap="round" stroke-linejoin="round"/>
<path d="M721.52 199.66 L718.82 202.37 L714.99 202.37 L712.28 199.66 L712.28 195.84 L714.99 193.13 L718.82 193.13 L721.52 195.84 Z" stroke="#a54b4b" stroke-width="0.9" fill="none" stroke-linecap="butt"/>
<path d="M721.52 221.11 L718.82 223.82 L714.99 223.82 L712.28 221.11 L712.28 217.29 L714.99 214.58 L718.82 214.58 L721.52 217.29 Z" stroke="#a54b4b" stroke-width="0.9" fill="none" stroke-linecap="butt"/>
<path d="M716.9 192.75 L716.9 194.2" stroke="#a54b4b" stroke-width="0.95" fill="none" stroke-linecap="butt" stroke-linejoin="miter"/>
<path d="M716.9 221.95 L716.9 224.36" stroke="#a54b4b" stroke-width="0.95" fill="none" stroke-linecap="butt" stroke-linejoin="miter"/>
<path d="M710.61 190.92 L708.78 188.98 L715.23 188.98 M715.23 191.03 L715.23 187.14 M708.78 182.53 L708.78 180.90 L709.85 179.88 L714.15 179.88 L715.23 180.90 L715.23 182.53 L714.15 183.55 L709.85 183.55 Z M714.15 183.55 L709.85 179.88" stroke="#8a8a8a" stroke-width="0.95" fill="none" stroke-linecap="round" stroke-linejoin="round"/>
<path d="M714.44 231.73 L715.03 231.17 L715.03 228.95 L714.05 228.02 L710.15 228.02 L709.18 228.95 L709.18 230.80 L710.15 231.73 L711.52 231.73 L712.49 230.80 L712.49 228.02" stroke="#8a8a8a" stroke-width="0.95" fill="none" stroke-linecap="round" stroke-linejoin="round"/>
<path d="M733.6 199.66 L730.89 202.37 L727.07 202.37 L724.36 199.66 L724.36 195.84 L727.07 193.13 L730.89 193.13 L733.6 195.84 Z" stroke="#a54b4b" stroke-width="0.9" fill="none" stroke-linecap="butt"/>
<path d="M733.6 221.11 L730.89 223.82 L727.07 223.82 L724.36 221.11 L724.36 217.29 L727.07 214.58 L730.89 214.58 L733.6 217.29 Z" stroke="#a54b4b" stroke-width="0.9" fill="none" stroke-linecap="butt"/>
<path d="M728.98 192.75 L728.98 194.2" stroke="#a54b4b" stroke-width="0.95" fill="none" stroke-linecap="butt" stroke-linejoin="miter"/>
<path d="M728.98 221.95 L728.98 224.36" stroke="#a54b4b" stroke-width="0.95" fill="none" stroke-linecap="butt" stroke-linejoin="miter"/>
<path d="M722.68 190.92 L720.86 188.98 L727.30 188.98 M727.30 191.03 L727.30 187.14 M721.93 183.96 L720.86 182.94 L720.86 180.90 L721.93 179.88 L723.00 179.88 L727.30 183.96 L727.30 179.88" stroke="#8a8a8a" stroke-width="0.95" fill="none" stroke-linecap="round" stroke-linejoin="round"/>
<path d="M722.91 237.83 L721.25 236.07 L727.11 236.07 M727.11 237.93 L727.11 234.41 M722.91 230.20 L721.25 228.44 L727.11 228.44 M727.11 230.29 L727.11 226.78" stroke="#8a8a8a" stroke-width="0.95" fill="none" stroke-linecap="round" stroke-linejoin="round"/>
<path d="M645.38 242.51 L645.38 238.27 M645.38 239.69 L651.92 239.69 L653.23 241.10 L653.23 242.51 L651.92 243.93 M653.23 236.48 L645.38 236.48 L645.38 232.24 L646.68 230.82 L647.99 230.82 L649.30 232.24 L649.30 236.48 M647.60 228.60 L645.38 225.92 L653.23 225.92 M653.23 228.74 L653.23 223.38" stroke="#8a8a8a" stroke-width="0.95" fill="none" stroke-linecap="round" stroke-linejoin="round"/>
<path d="M608.21 287.11 L608.21 299.17" stroke="#a54b4b" stroke-width="0.95" fill="none" stroke-linecap="butt" stroke-linejoin="miter"/>
<path d="M608.21 323.31 L608.21 335.37" stroke="#a54b4b" stroke-width="0.95" fill="none" stroke-linecap="butt" stroke-linejoin="miter"/>
<rect x="602.31" y="299.27" width="11.8" height="23.53" stroke="#a54b4b" stroke-width="1.8" fill="none"/>
<path d="M598.53 322.53 L592.69 322.53 L592.69 319.75 L593.66 318.83 L594.63 318.83 L595.61 319.75 L595.61 322.53 M595.61 320.49 L598.53 318.83 M598.53 314.11 L592.69 314.11 L596.59 316.89 L596.59 313.18" stroke="#8a8a8a" stroke-width="0.95" fill="none" stroke-linecap="round" stroke-linejoin="round"/>
<path d="M618.25 318.95 L617.69 319.49 L617.69 321.64 L618.63 322.53 L622.39 322.53 L623.34 321.64 L623.34 319.85 L622.39 318.95 L621.08 318.95 L620.13 319.85 L620.13 322.53 M617.69 315.88 L617.69 314.09 L618.63 313.20 L619.57 313.20 L620.51 314.09 L620.51 315.88 L619.57 316.77 L618.63 316.77 Z M620.51 315.88 L621.45 316.77 L622.39 316.77 L623.34 315.88 L623.34 314.09 L622.39 313.20 L621.45 313.20 L620.51 314.09 M617.69 309.94 L617.69 308.51 L618.63 307.62 L622.39 307.62 L623.34 308.51 L623.34 309.94 L622.39 310.84 L618.63 310.84 Z M622.39 310.84 L618.63 307.62 M623.34 305.26 L617.69 305.26 L617.69 302.58 L618.63 301.68 L619.57 301.68 L620.51 302.58 L620.51 305.26 M620.51 303.29 L623.34 301.68" stroke="#8a8a8a" stroke-width="0.95" fill="none" stroke-linecap="round" stroke-linejoin="round"/>
<path d="M644.44 287.11 L644.44 299.17" stroke="#a54b4b" stroke-width="0.95" fill="none" stroke-linecap="butt" stroke-linejoin="miter"/>
<path d="M644.44 323.31 L644.44 335.37" stroke="#a54b4b" stroke-width="0.95" fill="none" stroke-linecap="butt" stroke-linejoin="miter"/>
<rect x="638.54" y="299.27" width="11.8" height="23.53" stroke="#a54b4b" stroke-width="1.8" fill="none"/>
<path d="M634.77 322.53 L628.92 322.53 L628.92 319.75 L629.89 318.83 L630.87 318.83 L631.84 319.75 L631.84 322.53 M631.84 320.49 L634.77 318.83 M629.50 313.18 L628.92 313.74 L628.92 315.96 L629.89 316.89 L633.79 316.89 L634.77 315.96 L634.77 314.11 L633.79 313.18 L632.43 313.18 L631.45 314.11 L631.45 316.89" stroke="#8a8a8a" stroke-width="0.95" fill="none" stroke-linecap="round" stroke-linejoin="round"/>
<path d="M654.86 322.53 L653.92 321.64 L653.92 319.85 L654.86 318.95 L655.80 318.95 L656.74 319.85 L656.74 321.10 M656.74 319.85 L657.68 318.95 L658.62 318.95 L659.57 319.85 L659.57 321.64 L658.62 322.53 M654.86 316.77 L653.92 315.88 L653.92 314.09 L654.86 313.20 L655.80 313.20 L656.74 314.09 L656.74 315.34 M656.74 314.09 L657.68 313.20 L658.62 313.20 L659.57 314.09 L659.57 315.88 L658.62 316.77 M653.92 309.94 L653.92 308.51 L654.86 307.62 L658.62 307.62 L659.57 308.51 L659.57 309.94 L658.62 310.84 L654.86 310.84 Z M658.62 310.84 L654.86 307.62 M659.57 305.26 L653.92 305.26 L653.92 302.58 L654.86 301.68 L655.80 301.68 L656.74 302.58 L656.74 305.26 M656.74 303.29 L659.57 301.68" stroke="#8a8a8a" stroke-width="0.95" fill="none" stroke-linecap="round" stroke-linejoin="round"/>
<path d="M680.67 287.11 L680.67 299.17" stroke="#a54b4b" stroke-width="0.95" fill="none" stroke-linecap="butt" stroke-linejoin="miter"/>
<path d="M680.67 323.31 L680.67 335.37" stroke="#a54b4b" stroke-width="0.95" fill="none" stroke-linecap="butt" stroke-linejoin="miter"/>
<rect x="674.77" y="299.27" width="11.8" height="23.53" stroke="#a54b4b" stroke-width="1.8" fill="none"/>
<path d="M671.00 322.53 L665.15 322.53 L665.15 319.75 L666.12 318.83 L667.10 318.83 L668.07 319.75 L668.07 322.53 M668.07 320.49 L671.00 318.83 M665.15 316.89 L665.15 313.18 L665.93 313.18 L671.00 315.59" stroke="#8a8a8a" stroke-width="0.95" fill="none" stroke-linecap="round" stroke-linejoin="round"/>
<path d="M691.75 322.44 L690.15 320.74 L695.80 320.74 M695.80 322.53 L695.80 319.13 M690.15 313.31 L690.15 316.89 L692.60 316.89 L692.60 314.21 L693.54 313.31 L694.86 313.31 L695.80 314.21 L695.80 316.00 L694.86 316.89 M690.15 310.00 L690.15 308.57 L691.09 307.68 L694.86 307.68 L695.80 308.57 L695.80 310.00 L694.86 310.90 L691.09 310.90 Z M694.86 310.90 L691.09 307.68 M695.80 305.26 L690.15 305.26 L690.15 302.58 L691.09 301.68 L692.03 301.68 L692.97 302.58 L692.97 305.26 M692.97 303.29 L695.80 301.68" stroke="#8a8a8a" stroke-width="0.95" fill="none" stroke-linecap="round" stroke-linejoin="round"/>
<path d="M716.9 287.11 L716.9 299.17" stroke="#a54b4b" stroke-width="0.95" fill="none" stroke-linecap="butt" stroke-linejoin="miter"/>
<path d="M716.9 323.31 L716.9 335.37" stroke="#a54b4b" stroke-width="0.95" fill="none" stroke-linecap="butt" stroke-linejoin="miter"/>
<rect x="711" y="299.27" width="11.8" height="23.53" stroke="#a54b4b" stroke-width="1.8" fill="none"/>
<path d="M707.23 322.53 L701.38 322.53 L701.38 319.75 L702.35 318.83 L703.33 318.83 L704.30 319.75 L704.30 322.53 M704.30 320.49 L707.23 318.83 M706.64 316.89 L707.23 316.33 L707.23 314.11 L706.25 313.18 L702.35 313.18 L701.38 314.11 L701.38 315.96 L702.35 316.89 L703.72 316.89 L704.69 315.96 L704.69 313.18" stroke="#8a8a8a" stroke-width="0.95" fill="none" stroke-linecap="round" stroke-linejoin="round"/>
<path d="M727.98 322.44 L726.38 320.74 L732.03 320.74 M732.03 322.53 L732.03 319.13 M726.38 313.31 L726.38 316.89 L728.83 316.89 L728.83 314.21 L729.77 313.31 L731.09 313.31 L732.03 314.21 L732.03 316.00 L731.09 316.89 M726.38 310.00 L726.38 308.57 L727.32 307.68 L731.09 307.68 L732.03 308.57 L732.03 310.00 L731.09 310.90 L727.32 310.90 Z M731.09 310.90 L727.32 307.68 M732.03 305.26 L726.38 305.26 L726.38 302.58 L727.32 301.68 L728.26 301.68 L729.20 302.58 L729.20 305.26 M729.20 303.29 L732.03 301.68" stroke="#8a8a8a" stroke-width="0.95" fill="none" stroke-linecap="round" stroke-linejoin="round"/>
<path d="M753.13 287.11 L753.13 299.17" stroke="#a54b4b" stroke-width="0.95" fill="none" stroke-linecap="butt" stroke-linejoin="miter"/>
<path d="M753.13 323.31 L753.13 335.37" stroke="#a54b4b" stroke-width="0.95" fill="none" stroke-linecap="butt" stroke-linejoin="miter"/>
<rect x="747.23" y="299.27" width="11.8" height="23.53" stroke="#a54b4b" stroke-width="1.8" fill="none"/>
<path d="M743.46 322.53 L737.61 322.53 L737.61 319.75 L738.58 318.83 L739.56 318.83 L740.53 319.75 L740.53 322.53 M740.53 320.49 L743.46 318.83 M739.27 316.56 L737.61 314.80 L743.46 314.80 M743.46 316.65 L743.46 313.13 M739.27 310.86 L737.61 309.10 L743.46 309.10 M743.46 310.95 L743.46 307.43" stroke="#8a8a8a" stroke-width="0.95" fill="none" stroke-linecap="round" stroke-linejoin="round"/>
<path d="M764.21 322.44 L762.61 320.74 L768.26 320.74 M768.26 322.53 L768.26 319.13 M762.61 315.82 L762.61 314.39 L763.55 313.49 L767.32 313.49 L768.26 314.39 L768.26 315.82 L767.32 316.71 L763.55 316.71 Z M767.32 316.71 L763.55 313.49 M762.61 310.00 L762.61 308.57 L763.55 307.68 L767.32 307.68 L768.26 308.57 L768.26 310.00 L767.32 310.90 L763.55 310.90 Z M767.32 310.90 L763.55 307.68 M768.26 305.26 L762.61 305.26 L762.61 302.58 L763.55 301.68 L764.49 301.68 L765.43 302.58 L765.43 305.26 M765.43 303.29 L768.26 301.68" stroke="#8a8a8a" stroke-width="0.95" fill="none" stroke-linecap="round" stroke-linejoin="round"/>
<path d="M789.37 287.11 L789.37 299.17" stroke="#a54b4b" stroke-width="0.95" fill="none" stroke-linecap="butt" stroke-linejoin="miter"/>
<path d="M789.37 323.31 L789.37 335.37" stroke="#a54b4b" stroke-width="0.95" fill="none" stroke-linecap="butt" stroke-linejoin="miter"/>
<rect x="783.47" y="299.27" width="11.8" height="23.53" stroke="#a54b4b" stroke-width="1.8" fill="none"/>
<path d="M779.69 322.53 L773.84 322.53 L773.84 319.75 L774.82 318.83 L775.79 318.83 L776.76 319.75 L776.76 322.53 M776.76 320.49 L779.69 318.83 M775.50 316.56 L773.84 314.80 L779.69 314.80 M779.69 316.65 L779.69 313.13 M774.82 311.14 L773.84 310.21 L773.84 308.36 L774.82 307.43 L775.79 307.43 L776.76 308.36 L776.76 309.65 M776.76 308.36 L777.74 307.43 L778.72 307.43 L779.69 308.36 L779.69 310.21 L778.72 311.14" stroke="#8a8a8a" stroke-width="0.95" fill="none" stroke-linecap="round" stroke-linejoin="round"/>
<path d="M799.41 318.95 L798.84 319.49 L798.84 321.64 L799.78 322.53 L803.55 322.53 L804.49 321.64 L804.49 319.85 L803.55 318.95 L802.23 318.95 L801.29 319.85 L801.29 322.53 M798.84 315.88 L798.84 314.09 L799.78 313.19 L800.72 313.19 L801.67 314.09 L801.67 315.88 L800.72 316.77 L799.78 316.77 Z M801.67 315.88 L802.61 316.77 L803.55 316.77 L804.49 315.88 L804.49 314.09 L803.55 313.19 L802.61 313.19 L801.67 314.09 M804.49 311.01 L798.84 311.01 L798.84 308.33 L799.78 307.43 L800.72 307.43 L801.67 308.33 L801.67 311.01 M801.67 309.04 L804.49 307.43" stroke="#8a8a8a" stroke-width="0.95" fill="none" stroke-linecap="round" stroke-linejoin="round"/>
<path d="M608.21 347.44 L608.21 359.5" stroke="#a54b4b" stroke-width="0.95" fill="none" stroke-linecap="butt" stroke-linejoin="miter"/>
<path d="M608.21 383.64 L608.21 395.7" stroke="#a54b4b" stroke-width="0.95" fill="none" stroke-linecap="butt" stroke-linejoin="miter"/>
<rect x="602.31" y="359.6" width="11.8" height="23.53" stroke="#a54b4b" stroke-width="1.8" fill="none"/>
<path d="M598.53 382.86 L592.69 382.86 L592.69 380.08 L593.66 379.16 L594.63 379.16 L595.61 380.08 L595.61 382.86 M595.61 380.82 L598.53 379.16 M592.69 373.51 L592.69 377.22 L595.22 377.22 L595.22 374.44 L596.20 373.51 L597.56 373.51 L598.53 374.44 L598.53 376.29 L597.56 377.22" stroke="#8a8a8a" stroke-width="0.95" fill="none" stroke-linecap="round" stroke-linejoin="round"/>
<path d="M623.34 380.18 L617.69 380.18 L621.45 382.86 L621.45 379.28 M617.69 377.10 L617.69 373.52 L618.44 373.52 L623.34 375.85 M623.34 371.34 L617.69 371.34 L617.69 368.66 L618.63 367.76 L619.57 367.76 L620.51 368.66 L620.51 371.34 M620.51 369.37 L623.34 367.76" stroke="#8a8a8a" stroke-width="0.95" fill="none" stroke-linecap="round" stroke-linejoin="round"/>
<path d="M680.67 347.44 L680.67 359.5" stroke="#a54b4b" stroke-width="0.95" fill="none" stroke-linecap="butt" stroke-linejoin="miter"/>
<path d="M680.67 383.64 L680.67 395.7" stroke="#a54b4b" stroke-width="0.95" fill="none" stroke-linecap="butt" stroke-linejoin="miter"/>
<rect x="674.77" y="359.6" width="11.8" height="23.53" stroke="#a54b4b" stroke-width="1.8" fill="none"/>
<path d="M671.00 382.86 L665.15 382.86 L665.15 380.08 L666.12 379.16 L667.10 379.16 L668.07 380.08 L668.07 382.86 M668.07 380.82 L671.00 379.16 M665.15 376.29 L665.15 374.44 L666.12 373.51 L667.10 373.51 L668.07 374.44 L668.07 376.29 L667.10 377.22 L666.12 377.22 Z M668.07 376.29 L669.05 377.22 L670.02 377.22 L671.00 376.29 L671.00 374.44 L670.02 373.51 L669.05 373.51 L668.07 374.44" stroke="#8a8a8a" stroke-width="0.95" fill="none" stroke-linecap="round" stroke-linejoin="round"/>
<path d="M690.71 379.28 L690.15 379.82 L690.15 381.97 L691.09 382.86 L694.86 382.86 L695.80 381.97 L695.80 380.18 L694.86 379.28 L693.54 379.28 L692.60 380.18 L692.60 382.86 M690.15 376.21 L690.15 374.42 L691.09 373.52 L692.03 373.52 L692.97 374.42 L692.97 376.21 L692.03 377.10 L691.09 377.10 Z M692.97 376.21 L693.91 377.10 L694.86 377.10 L695.80 376.21 L695.80 374.42 L694.86 373.52 L693.91 373.52 L692.97 374.42 M695.80 371.34 L690.15 371.34 L690.15 368.66 L691.09 367.76 L692.03 367.76 L692.97 368.66 L692.97 371.34 M692.97 369.37 L695.80 367.76" stroke="#8a8a8a" stroke-width="0.95" fill="none" stroke-linecap="round" stroke-linejoin="round"/>
<path d="M716.9 347.44 L716.9 359.5" stroke="#a54b4b" stroke-width="0.95" fill="none" stroke-linecap="butt" stroke-linejoin="miter"/>
<path d="M716.9 383.64 L716.9 395.7" stroke="#a54b4b" stroke-width="0.95" fill="none" stroke-linecap="butt" stroke-linejoin="miter"/>
<rect x="711" y="359.6" width="11.8" height="23.53" stroke="#a54b4b" stroke-width="1.8" fill="none"/>
<path d="M707.23 382.86 L701.38 382.86 L701.38 380.08 L702.35 379.16 L703.33 379.16 L704.30 380.08 L704.30 382.86 M704.30 380.82 L707.23 379.16 M703.04 376.79 L701.38 375.03 L707.23 375.03 M707.23 376.89 L707.23 373.37 M701.38 370.17 L701.38 368.69 L702.35 367.76 L706.25 367.76 L707.23 368.69 L707.23 370.17 L706.25 371.10 L702.35 371.10 Z M706.25 371.10 L702.35 367.76" stroke="#8a8a8a" stroke-width="0.95" fill="none" stroke-linecap="round" stroke-linejoin="round"/>
<path d="M727.98 382.77 L726.38 381.07 L732.03 381.07 M732.03 382.86 L732.03 379.46 M726.38 376.12 L726.38 374.68 L727.32 373.79 L731.09 373.79 L732.03 374.68 L732.03 376.12 L731.09 377.01 L727.32 377.01 Z M731.09 377.01 L727.32 373.79 M732.03 371.34 L726.38 371.34 L726.38 368.66 L727.32 367.76 L728.26 367.76 L729.20 368.66 L729.20 371.34 M729.20 369.37 L732.03 367.76" stroke="#8a8a8a" stroke-width="0.95" fill="none" stroke-linecap="round" stroke-linejoin="round"/>
<path d="M753.13 347.44 L753.13 359.5" stroke="#a54b4b" stroke-width="0.95" fill="none" stroke-linecap="butt" stroke-linejoin="miter"/>
<path d="M753.13 383.64 L753.13 395.7" stroke="#a54b4b" stroke-width="0.95" fill="none" stroke-linecap="butt" stroke-linejoin="miter"/>
<rect x="747.23" y="359.6" width="11.8" height="23.53" stroke="#a54b4b" stroke-width="1.8" fill="none"/>
<path d="M743.46 382.86 L737.61 382.86 L737.61 380.08 L738.58 379.16 L739.56 379.16 L740.53 380.08 L740.53 382.86 M740.53 380.82 L743.46 379.16 M739.27 376.89 L737.61 375.13 L743.46 375.13 M743.46 376.98 L743.46 373.46 M738.58 371.47 L737.61 370.54 L737.61 368.69 L738.58 367.76 L739.56 367.76 L743.46 371.47 L743.46 367.76" stroke="#8a8a8a" stroke-width="0.95" fill="none" stroke-linecap="round" stroke-linejoin="round"/>
<path d="M764.21 382.77 L762.61 381.07 L768.26 381.07 M768.26 382.86 L768.26 379.46 M762.61 373.61 L762.61 377.19 L765.06 377.19 L765.06 374.51 L766.00 373.61 L767.32 373.61 L768.26 374.51 L768.26 376.30 L767.32 377.19 M768.26 371.34 L762.61 371.34 L762.61 368.66 L763.55 367.76 L764.49 367.76 L765.43 368.66 L765.43 371.34 M765.43 369.37 L768.26 367.76" stroke="#8a8a8a" stroke-width="0.95" fill="none" stroke-linecap="round" stroke-linejoin="round"/>
<path d="M789.37 347.44 L789.37 359.5" stroke="#a54b4b" stroke-width="0.95" fill="none" stroke-linecap="butt" stroke-linejoin="miter"/>
<path d="M789.37 383.64 L789.37 395.7" stroke="#a54b4b" stroke-width="0.95" fill="none" stroke-linecap="butt" stroke-linejoin="miter"/>
<rect x="783.47" y="359.6" width="11.8" height="23.53" stroke="#a54b4b" stroke-width="1.8" fill="none"/>
<path d="M779.69 382.86 L773.84 382.86 L773.84 380.08 L774.82 379.16 L775.79 379.16 L776.76 380.08 L776.76 382.86 M776.76 380.82 L779.69 379.16 M775.50 376.89 L773.84 375.13 L779.69 375.13 M779.69 376.98 L779.69 373.46 M779.69 368.69 L773.84 368.69 L777.74 371.47 L777.74 367.76" stroke="#8a8a8a" stroke-width="0.95" fill="none" stroke-linecap="round" stroke-linejoin="round"/>
<path d="M798.84 379.28 L798.84 382.86 L801.29 382.86 L801.29 380.18 L802.23 379.28 L803.55 379.28 L804.49 380.18 L804.49 381.97 L803.55 382.86 M804.49 377.10 L798.84 377.10 L798.84 374.42 L799.78 373.52 L800.72 373.52 L801.67 374.42 L801.67 377.10 M801.67 375.13 L804.49 373.52 M799.41 367.76 L798.84 368.30 L798.84 370.44 L799.78 371.34 L803.55 371.34 L804.49 370.44 L804.49 368.66 L803.55 367.76 L802.23 367.76 L801.29 368.66 L801.29 371.34" stroke="#8a8a8a" stroke-width="0.95" fill="none" stroke-linecap="round" stroke-linejoin="round"/>
<path d="M970.52 81.99 L985.01 81.99" stroke="#a54b4b" stroke-width="0.95" fill="none" stroke-linecap="butt" stroke-linejoin="miter"/>
<path d="M982.5 81.99 L988.3 81.99" stroke="#a54b4b" stroke-width="3.4" fill="none" stroke-linecap="round"/>
<path d="M995.18 78.56 L999.89 85.11 M995.18 85.11 L999.89 78.56 M1001.97 80.42 L1004.21 78.56 L1004.21 85.11 M1001.86 85.11 L1006.34 85.11 M1008.06 81.95 L1013.02 81.95 M1014.86 80.42 L1017.10 78.56 L1017.10 85.11 M1014.74 85.11 L1019.23 85.11" stroke="#8a8a8a" stroke-width="0.95" fill="none" stroke-linecap="round" stroke-linejoin="round"/>
<path d="M970.52 94.05 L985.01 94.05" stroke="#a54b4b" stroke-width="0.95" fill="none" stroke-linecap="butt" stroke-linejoin="miter"/>
<path d="M982.5 94.05 L988.3 94.05" stroke="#a54b4b" stroke-width="3.4" fill="none" stroke-linecap="round"/>
<path d="M995.18 90.63 L999.89 97.18 M995.18 97.18 L999.89 90.63 M1001.97 92.48 L1004.21 90.63 L1004.21 97.18 M1001.86 97.18 L1006.34 97.18 M1008.06 94.01 L1013.02 94.01 M1014.51 91.72 L1015.69 90.63 L1018.05 90.63 L1019.23 91.72 L1019.23 92.81 L1014.51 97.18 L1019.23 97.18" stroke="#8a8a8a" stroke-width="0.95" fill="none" stroke-linecap="round" stroke-linejoin="round"/>
<path d="M970.52 106.12 L985.01 106.12" stroke="#a54b4b" stroke-width="0.95" fill="none" stroke-linecap="butt" stroke-linejoin="miter"/>
<path d="M982.5 106.12 L988.3 106.12" stroke="#a54b4b" stroke-width="3.4" fill="none" stroke-linecap="round"/>
<path d="M995.18 102.69 L999.89 109.24 M995.18 109.24 L999.89 102.69 M1001.97 104.55 L1004.21 102.69 L1004.21 109.24 M1001.86 109.24 L1006.34 109.24 M1008.06 106.08 L1013.02 106.08 M1014.51 103.78 L1015.69 102.69 L1018.05 102.69 L1019.23 103.78 L1019.23 104.88 L1018.05 105.97 L1016.40 105.97 M1018.05 105.97 L1019.23 107.06 L1019.23 108.15 L1018.05 109.24 L1015.69 109.24 L1014.51 108.15" stroke="#8a8a8a" stroke-width="0.95" fill="none" stroke-linecap="round" stroke-linejoin="round"/>
<path d="M970.52 142.32 L985.01 142.32" stroke="#a54b4b" stroke-width="0.95" fill="none" stroke-linecap="butt" stroke-linejoin="miter"/>
<path d="M982.5 142.32 L988.3 142.32" stroke="#a54b4b" stroke-width="3.4" fill="none" stroke-linecap="round"/>
<path d="M995.18 138.89 L999.89 145.44 M995.18 145.44 L999.89 138.89 M1001.62 139.98 L1002.80 138.89 L1005.16 138.89 L1006.34 139.98 L1006.34 141.07 L1001.62 145.44 L1006.34 145.44 M1008.06 142.28 L1013.02 142.28 M1014.86 140.75 L1017.10 138.89 L1017.10 145.44 M1014.74 145.44 L1019.23 145.44" stroke="#8a8a8a" stroke-width="0.95" fill="none" stroke-linecap="round" stroke-linejoin="round"/>
<path d="M970.52 154.38 L985.01 154.38" stroke="#a54b4b" stroke-width="0.95" fill="none" stroke-linecap="butt" stroke-linejoin="miter"/>
<path d="M982.5 154.38 L988.3 154.38" stroke="#a54b4b" stroke-width="3.4" fill="none" stroke-linecap="round"/>
<path d="M995.18 150.96 L999.89 157.51 M995.18 157.51 L999.89 150.96 M1001.62 152.05 L1002.80 150.96 L1005.16 150.96 L1006.34 152.05 L1006.34 153.14 L1001.62 157.51 L1006.34 157.51 M1008.06 154.34 L1013.02 154.34 M1014.51 152.05 L1015.69 150.96 L1018.05 150.96 L1019.23 152.05 L1019.23 153.14 L1014.51 157.51 L1019.23 157.51" stroke="#8a8a8a" stroke-width="0.95" fill="none" stroke-linecap="round" stroke-linejoin="round"/>
<path d="M970.52 166.45 L985.01 166.45" stroke="#a54b4b" stroke-width="0.95" fill="none" stroke-linecap="butt" stroke-linejoin="miter"/>
<path d="M982.5 166.45 L988.3 166.45" stroke="#a54b4b" stroke-width="3.4" fill="none" stroke-linecap="round"/>
<path d="M995.18 163.02 L999.89 169.57 M995.18 169.57 L999.89 163.02 M1001.62 164.11 L1002.80 163.02 L1005.16 163.02 L1006.34 164.11 L1006.34 165.21 L1001.62 169.57 L1006.34 169.57 M1008.06 166.41 L1013.02 166.41 M1014.51 164.11 L1015.69 163.02 L1018.05 163.02 L1019.23 164.11 L1019.23 165.21 L1018.05 166.30 L1016.40 166.30 M1018.05 166.30 L1019.23 167.39 L1019.23 168.48 L1018.05 169.57 L1015.69 169.57 L1014.51 168.48" stroke="#8a8a8a" stroke-width="0.95" fill="none" stroke-linecap="round" stroke-linejoin="round"/>
<path d="M970.52 202.65 L985.01 202.65" stroke="#a54b4b" stroke-width="0.95" fill="none" stroke-linecap="butt" stroke-linejoin="miter"/>
<path d="M982.5 202.65 L988.3 202.65" stroke="#a54b4b" stroke-width="3.4" fill="none" stroke-linecap="round"/>
<path d="M995.18 199.22 L999.89 205.77 M995.18 205.77 L999.89 199.22 M1001.62 200.31 L1002.80 199.22 L1005.16 199.22 L1006.34 200.31 L1006.34 201.40 L1005.16 202.50 L1003.51 202.50 M1005.16 202.50 L1006.34 203.59 L1006.34 204.68 L1005.16 205.77 L1002.80 205.77 L1001.62 204.68 M1008.06 202.61 L1013.02 202.61 M1014.86 201.08 L1017.10 199.22 L1017.10 205.77 M1014.74 205.77 L1019.23 205.77" stroke="#8a8a8a" stroke-width="0.95" fill="none" stroke-linecap="round" stroke-linejoin="round"/>
<path d="M970.52 214.71 L985.01 214.71" stroke="#a54b4b" stroke-width="0.95" fill="none" stroke-linecap="butt" stroke-linejoin="miter"/>
<path d="M982.5 214.71 L988.3 214.71" stroke="#a54b4b" stroke-width="3.4" fill="none" stroke-linecap="round"/>
<path d="M995.18 211.29 L999.89 217.84 M995.18 217.84 L999.89 211.29 M1001.62 212.38 L1002.80 211.29 L1005.16 211.29 L1006.34 212.38 L1006.34 213.47 L1005.16 214.56 L1003.51 214.56 M1005.16 214.56 L1006.34 215.65 L1006.34 216.75 L1005.16 217.84 L1002.80 217.84 L1001.62 216.75 M1008.06 214.67 L1013.02 214.67 M1014.51 212.38 L1015.69 211.29 L1018.05 211.29 L1019.23 212.38 L1019.23 213.47 L1014.51 217.84 L1019.23 217.84" stroke="#8a8a8a" stroke-width="0.95" fill="none" stroke-linecap="round" stroke-linejoin="round"/>
<path d="M970.52 226.78 L985.01 226.78" stroke="#a54b4b" stroke-width="0.95" fill="none" stroke-linecap="butt" stroke-linejoin="miter"/>
<path d="M982.5 226.78 L988.3 226.78" stroke="#a54b4b" stroke-width="3.4" fill="none" stroke-linecap="round"/>
<path d="M995.18 223.35 L999.89 229.90 M995.18 229.90 L999.89 223.35 M1001.62 224.44 L1002.80 223.35 L1005.16 223.35 L1006.34 224.44 L1006.34 225.54 L1005.16 226.63 L1003.51 226.63 M1005.16 226.63 L1006.34 227.72 L1006.34 228.81 L1005.16 229.90 L1002.80 229.90 L1001.62 228.81 M1008.06 226.74 L1013.02 226.74 M1014.51 224.44 L1015.69 223.35 L1018.05 223.35 L1019.23 224.44 L1019.23 225.54 L1018.05 226.63 L1016.40 226.63 M1018.05 226.63 L1019.23 227.72 L1019.23 228.81 L1018.05 229.90 L1015.69 229.90 L1014.51 228.81" stroke="#8a8a8a" stroke-width="0.95" fill="none" stroke-linecap="round" stroke-linejoin="round"/>
<path d="M934.29 250.91 L934.29 262.98" stroke="#a54b4b" stroke-width="0.95" fill="none" stroke-linecap="butt" stroke-linejoin="miter"/>
<path d="M924.89 262.58 L943.69 262.58" stroke="#a54b4b" stroke-width="1.7" fill="none" stroke-linecap="butt"/>
<path d="M927.98 268.36 L926.68 267.15 L924.07 267.15 L922.76 268.36 L922.76 273.19 L924.07 274.40 L926.68 274.40 L927.98 273.19 L927.98 271.02 L925.90 271.02 M930.78 274.40 L930.78 267.15 L936.00 274.40 L936.00 267.15 M938.79 267.15 L938.79 274.40 L942.71 274.40 L944.01 273.19 L944.01 268.36 L942.71 267.15 Z" stroke="#8a8a8a" stroke-width="0.95" fill="none" stroke-linecap="round" stroke-linejoin="round"/>
<path d="M608.69 425.03 L610.09 423.73 L612.90 423.73 L614.30 425.03 L614.30 426.33 L612.90 427.62 L610.93 427.62 M612.90 427.62 L614.30 428.93 L614.30 430.23 L612.90 431.53 L610.09 431.53 L608.69 430.23 M617.12 423.73 L617.12 429.45 L619.37 431.53 L620.49 431.53 L622.74 429.45 L622.74 423.73" stroke="#8a8a8a" stroke-width="0.95" fill="none" stroke-linecap="round" stroke-linejoin="round"/>
<path d="M650.53 423.73 L644.92 423.73 L644.92 427.11 L649.13 427.11 L650.53 428.41 L650.53 430.23 L649.13 431.53 L646.32 431.53 L644.92 430.23 M653.35 423.73 L653.35 429.45 L655.60 431.53 L656.72 431.53 L658.97 429.45 L658.97 423.73" stroke="#8a8a8a" stroke-width="0.95" fill="none" stroke-linecap="round" stroke-linejoin="round"/>
<path d="M681.15 423.73 L686.76 423.73 L686.76 424.77 L683.11 431.53 M689.58 423.73 L689.58 429.45 L691.83 431.53 L692.95 431.53 L695.20 429.45 L695.20 423.73" stroke="#8a8a8a" stroke-width="0.95" fill="none" stroke-linecap="round" stroke-linejoin="round"/>
<path d="M717.38 430.75 L718.22 431.53 L721.59 431.53 L722.99 430.23 L722.99 425.03 L721.59 423.73 L718.78 423.73 L717.38 425.03 L717.38 426.85 L718.78 428.15 L722.99 428.15 M725.81 423.73 L725.81 429.45 L728.06 431.53 L729.18 431.53 L731.43 429.45 L731.43 423.73" stroke="#8a8a8a" stroke-width="0.95" fill="none" stroke-linecap="round" stroke-linejoin="round"/>
<path d="M753.75 425.94 L756.42 423.73 L756.42 431.53 M753.61 431.53 L758.94 431.53 M761.44 425.03 L762.84 423.73 L765.65 423.73 L767.05 425.03 L767.05 426.33 L761.44 431.53 L767.05 431.53 M769.54 423.73 L769.54 429.45 L771.79 431.53 L772.91 431.53 L775.16 429.45 L775.16 423.73" stroke="#8a8a8a" stroke-width="0.95" fill="none" stroke-linecap="round" stroke-linejoin="round"/>
<path d="M789.98 425.94 L792.65 423.73 L792.65 431.53 M789.84 431.53 L795.18 431.53 M797.67 430.75 L798.51 431.53 L801.88 431.53 L803.28 430.23 L803.28 425.03 L801.88 423.73 L799.07 423.73 L797.67 425.03 L797.67 426.85 L799.07 428.15 L803.28 428.15 M805.77 423.73 L805.77 429.45 L808.02 431.53 L809.14 431.53 L811.39 429.45 L811.39 423.73" stroke="#8a8a8a" stroke-width="0.95" fill="none" stroke-linecap="round" stroke-linejoin="round"/>
</svg>
</body></html>
